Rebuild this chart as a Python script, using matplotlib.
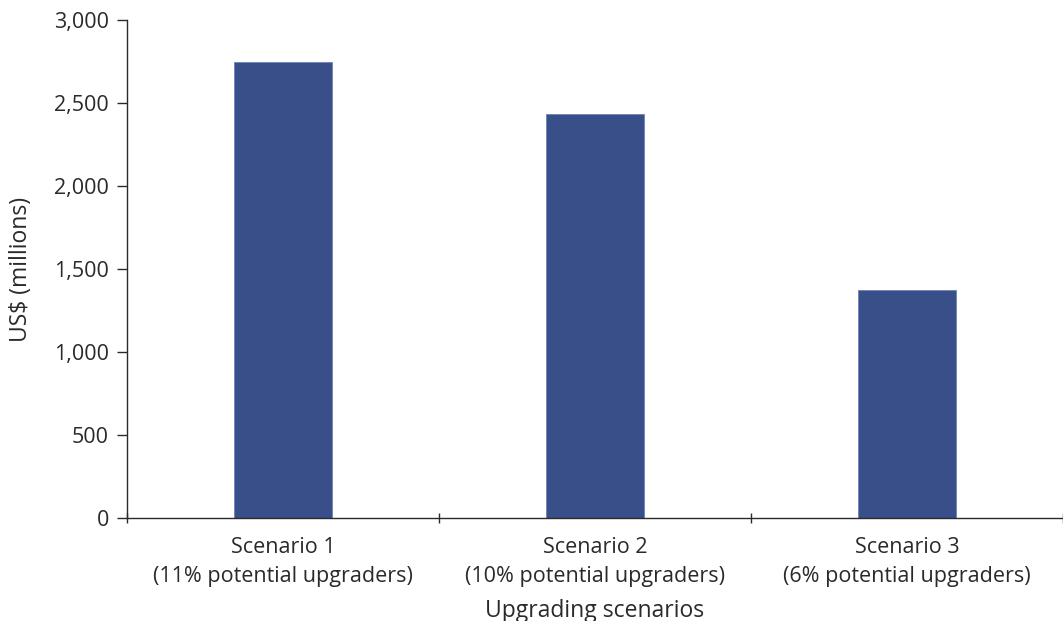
import matplotlib
matplotlib.use("Agg")
import matplotlib.pyplot as plt

categories = ["Scenario 1\n(11% potential upgraders)",
              "Scenario 2\n(10% potential upgraders)",
              "Scenario 3\n(6% potential upgraders)"]
values = [2750, 2435, 1375]
y_ticks = [0, 500, 1000, 1500, 2000, 2500, 3000]

plt.rcParams['font.family'] = ['Open Sans', 'DejaVu Sans']
text_color = '#2a2a2a'

fig = plt.figure(figsize=(10.63, 6.21), dpi=100)
ax = fig.add_axes([127/1063, 1-518/621, 1-127/1063, (518-20)/621])

x = list(range(len(categories)))
ax.bar(x, values, width=0.315, color='#394f8a', edgecolor='#6f83b5', linewidth=0.6, zorder=2)

ax.set_xlim(-0.5, 2.5)
ax.set_ylim(0, 3000)
ax.set_yticks(y_ticks)
ax.set_yticklabels([f"{v:,}" for v in y_ticks])
ax.set_xticks([-0.5, 0.5, 1.5, 2.5])
ax.set_xticklabels([])
ax.set_xticks(x, minor=True)
ax.set_xticklabels(categories, minor=True, fontsize=15.5, color=text_color, linespacing=1.5)
ax.tick_params(axis='x', which='minor', length=0, pad=14)
ax.tick_params(axis='x', which='major', length=7, width=1, color=text_color, direction='inout')
ax.tick_params(axis='y', length=7, width=1, color=text_color, labelsize=15.5, labelcolor=text_color, pad=6)

for s in ['top', 'right']:
    ax.spines[s].set_visible(False)
for s in ['left', 'bottom']:
    ax.spines[s].set_color(text_color)
    ax.spines[s].set_linewidth(1)

ax.set_xlabel("Upgrading scenarios", fontsize=16.5, color=text_color, labelpad=8)
ax.set_ylabel("US$ (millions)", fontsize=16.5, color=text_color, labelpad=15)

fig.savefig("out.png", dpi=100)
